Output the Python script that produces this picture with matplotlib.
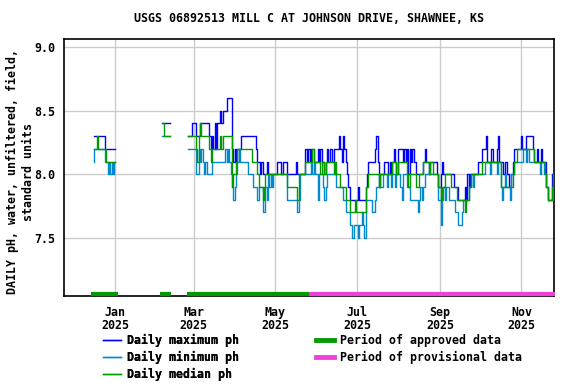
import matplotlib
matplotlib.use("Agg")
import matplotlib.pyplot as plt
import matplotlib.dates as mdates
import matplotlib.transforms as mtransforms
from matplotlib.lines import Line2D
import pandas as pd

# ---- data: daily pH, three separate runs of record ----
seg_starts = ["2024-12-16", "2025-02-05", "2025-02-25"]

max1 = [8.3, 8.3, 8.3, 8.3, 8.3, 8.3, 8.3, 8.3, 8.3, 8.2, 8.2, 8.2, 8.2, 8.2, 8.2, 8.2, 8.2]
min1 = [8.1, 8.2, 8.2, 8.2, 8.2, 8.2, 8.2, 8.2, 8.2, 8.1, 8.1, 8.0, 8.1, 8.0, 8.1, 8.0, 8.1]
med1 = [8.2, 8.2, 8.2, 8.3, 8.2, 8.2, 8.2, 8.2, 8.2, 8.2, 8.1, 8.1, 8.1, 8.1, 8.1, 8.1, 8.1]

max2 = [8.4, 8.4, 8.4, 8.4, 8.4, 8.4, 8.4]
min2 = [8.3, 8.3, 8.3, 8.3, 8.3, 8.3, 8.3]
med2 = [8.4, 8.4, 8.3, 8.3, 8.3, 8.3, 8.3]

# Feb 25 .. Nov 25 2025
max3 = [8.3, 8.3, 8.3, 8.4,
        # Mar
        8.4, 8.4, 8.3, 8.3, 8.3, 8.4, 8.4, 8.4, 8.4, 8.4, 8.4, 8.4, 8.3, 8.2, 8.3, 8.2,
        8.4, 8.2, 8.4, 8.4, 8.5, 8.4, 8.5, 8.5, 8.5, 8.6, 8.6, 8.6, 8.6, 8.2, 8.1,
        # Apr
        8.2, 8.1, 8.2, 8.2, 8.2, 8.3, 8.3, 8.3, 8.3, 8.3, 8.3, 8.3, 8.3, 8.3, 8.3,
        8.3, 8.2, 8.1, 8.1, 8.0, 8.1, 8.0, 8.0, 8.0, 8.1, 8.0, 8.0, 8.0, 8.0, 8.0,
        # May
        8.0, 8.0, 8.1, 8.1, 8.1, 8.0, 8.1, 8.1, 8.1, 8.0, 8.0, 8.0, 8.0, 8.0, 8.0, 8.0,
        8.1, 8.0, 8.0, 8.0, 8.0, 8.0, 8.0, 8.2, 8.1, 8.2, 8.1, 8.2, 8.2, 8.1, 8.1,
        # Jun
        8.1, 8.2, 8.1, 8.2, 8.1, 8.1, 8.0, 8.1, 8.2, 8.1, 8.2, 8.2, 8.1, 8.2, 8.2,
        8.2, 8.2, 8.3, 8.2, 8.1, 8.3, 8.2, 8.1, 8.0, 7.9, 7.8, 7.8, 7.8, 7.8, 7.8,
        # Jul
        7.8, 7.9, 7.8, 7.8, 7.8, 7.8, 7.8, 7.9, 8.0, 8.1, 8.1, 8.1, 8.1, 8.1, 8.2, 8.3,
        8.1, 7.9, 8.0, 8.0, 8.0, 8.1, 8.1, 8.1, 8.0, 8.1, 8.0, 8.1, 8.2, 8.1, 8.0,
        # Aug
        8.2, 8.2, 8.2, 8.2, 8.1, 8.2, 8.1, 8.2, 8.0, 8.2, 8.1, 8.2, 8.1, 8.1, 8.0, 8.0,
        8.0, 8.0, 8.0, 8.1, 8.2, 8.1, 8.1, 8.0, 8.1, 8.1, 8.1, 8.1, 8.1, 8.0, 7.9,
        # Sep
        7.9, 8.0, 8.1, 8.0, 8.0, 8.0, 8.0, 8.0, 8.0, 8.0, 8.0, 7.9, 7.9, 7.9, 7.8,
        7.8, 7.8, 7.8, 7.8, 7.9, 7.8, 8.0, 7.9, 8.0, 8.0, 8.0, 8.0, 8.0, 8.0, 8.1,
        # Oct
        8.1, 8.1, 8.2, 8.2, 8.2, 8.3, 8.1, 8.1, 8.1, 8.2, 8.1, 8.1, 8.1, 8.2, 8.3, 8.1,
        8.1, 8.1, 8.0, 8.1, 8.1, 8.0, 7.9, 7.9, 8.0, 8.1, 8.2, 8.2, 8.2, 8.2, 8.2,
        # Nov
        8.3, 8.2, 8.2, 8.2, 8.3, 8.3, 8.3, 8.3, 8.3, 8.2, 8.1, 8.1, 8.2, 8.1, 8.1, 8.2,
        8.1, 8.1, 8.1, 7.9, 7.8, 7.8, 7.8, 8.0, 8.0]

min3 = [8.2, 8.2, 8.2, 8.2,
        # Mar
        8.2, 8.2, 8.0, 8.0, 8.2, 8.1, 8.2, 8.1, 8.0, 8.1, 8.0, 8.0, 8.0, 8.0, 8.1, 8.1,
        8.1, 8.1, 8.1, 8.1, 8.1, 8.1, 8.1, 8.1, 8.2, 8.1, 8.2, 8.1, 8.0, 7.9, 7.8,
        # Apr
        7.9, 8.0, 8.1, 8.2, 8.1, 8.1, 8.1, 8.1, 8.1, 8.1, 8.0, 8.0, 8.0, 8.0, 7.9,
        7.9, 7.9, 7.8, 7.9, 7.9, 7.9, 7.7, 7.7, 7.9, 7.8, 8.0, 7.9, 8.0, 7.9, 8.0,
        # May
        8.0, 8.0, 8.0, 8.0, 8.0, 8.0, 8.0, 8.0, 8.0, 7.8, 7.8, 7.8, 7.8, 7.8, 7.8, 7.8,
        7.8, 7.7, 7.8, 8.0, 8.0, 8.0, 8.0, 8.0, 8.0, 8.0, 8.0, 8.1, 8.0, 8.1, 8.0,
        # Jun
        8.0, 7.8, 8.0, 8.0, 8.0, 7.9, 7.8, 7.9, 8.0, 8.0, 8.0, 8.0, 8.0, 8.0, 8.0,
        7.9, 7.9, 7.9, 7.9, 7.9, 7.8, 7.8, 7.7, 7.7, 7.7, 7.6, 7.6, 7.5, 7.6, 7.6,
        # Jul
        7.6, 7.5, 7.6, 7.6, 7.7, 7.6, 7.5, 7.8, 7.8, 7.8, 7.8, 7.8, 7.7, 7.7, 7.8, 7.9,
        7.9, 7.9, 7.9, 7.9, 8.0, 8.0, 8.0, 7.9, 8.0, 8.0, 7.9, 8.0, 8.0, 7.9, 8.0,
        # Aug
        8.0, 8.0, 7.9, 7.8, 8.0, 8.0, 8.0, 7.9, 7.9, 7.8, 7.8, 7.8, 7.8, 7.8, 7.8, 7.7,
        7.8, 7.9, 7.8, 7.9, 8.0, 8.0, 8.0, 8.0, 8.0, 8.0, 8.0, 8.0, 8.0, 8.0, 7.8,
        # Sep
        7.8, 7.6, 7.8, 7.9, 7.8, 7.9, 7.9, 7.8, 7.8, 7.8, 7.8, 7.8, 7.7, 7.7, 7.6,
        7.6, 7.6, 7.7, 7.8, 7.8, 7.8, 7.8, 7.9, 7.9, 8.0, 7.9, 8.0, 8.0, 8.0, 8.0,
        # Oct
        8.0, 8.0, 8.0, 8.0, 8.1, 8.1, 8.1, 8.1, 8.0, 8.1, 8.1, 8.1, 8.1, 8.0, 8.1, 8.1,
        7.9, 7.8, 7.9, 8.0, 7.9, 7.9, 7.9, 7.8, 8.0, 8.0, 8.1, 8.1, 8.1, 8.1, 8.1,
        # Nov
        8.1, 8.1, 8.2, 8.2, 8.1, 8.2, 8.1, 8.1, 8.1, 8.1, 8.1, 8.1, 8.1, 8.1, 8.0, 8.1,
        8.1, 8.0, 8.0, 7.9, 7.8, 7.8, 7.8, 7.8, 7.9]

med3 = [8.3, 8.3, 8.3, 8.3,
        # Mar
        8.3, 8.3, 8.2, 8.1, 8.3, 8.4, 8.3, 8.3, 8.3, 8.3, 8.3, 8.3, 8.2, 8.1, 8.2, 8.2,
        8.2, 8.2, 8.2, 8.2, 8.3, 8.2, 8.3, 8.3, 8.3, 8.3, 8.3, 8.3, 8.3, 7.9, 8.0,
        # Apr
        8.0, 8.1, 8.2, 8.2, 8.2, 8.2, 8.2, 8.2, 8.2, 8.2, 8.2, 8.2, 8.2, 8.1, 8.1,
        8.1, 8.1, 8.0, 7.9, 7.9, 7.9, 7.8, 7.9, 8.0, 8.0, 8.0, 8.0, 8.0, 8.0, 8.0,
        # May
        8.0, 8.0, 8.0, 8.0, 8.0, 8.0, 8.0, 8.0, 8.0, 7.9, 7.9, 7.9, 7.9, 7.9, 7.9, 7.9,
        7.9, 7.8, 8.0, 8.0, 8.0, 8.0, 8.0, 8.1, 8.1, 8.1, 8.1, 8.1, 8.2, 8.1, 8.1,
        # Jun
        8.1, 8.1, 8.1, 8.0, 8.1, 8.1, 8.0, 8.1, 8.1, 8.1, 8.1, 8.1, 8.1, 8.0, 8.1,
        8.0, 8.0, 8.0, 7.9, 7.9, 7.9, 7.9, 7.8, 7.8, 7.8, 7.7, 7.7, 7.7, 7.7, 7.8,
        # Jul
        7.7, 7.7, 7.7, 7.7, 7.7, 7.7, 7.7, 7.9, 7.9, 8.0, 8.0, 8.0, 8.0, 8.0, 8.0, 8.0,
        8.0, 7.9, 8.0, 8.0, 8.0, 8.0, 8.0, 8.0, 8.0, 8.0, 8.0, 8.1, 8.1, 8.1, 8.0,
        # Aug
        8.1, 8.1, 8.1, 8.1, 8.1, 8.1, 8.1, 8.0, 7.9, 8.0, 8.0, 8.0, 8.0, 8.0, 7.9, 7.9,
        8.0, 8.0, 8.0, 8.1, 8.1, 8.1, 8.1, 8.0, 8.1, 8.1, 8.0, 8.0, 8.0, 8.0, 7.9,
        # Sep
        7.9, 7.8, 7.9, 7.9, 8.0, 8.0, 8.0, 8.0, 8.0, 7.9, 7.9, 7.9, 7.9, 7.8, 7.8,
        7.8, 7.8, 7.8, 7.8, 7.7, 7.8, 7.8, 7.9, 7.9, 8.0, 8.0, 8.0, 8.0, 8.0, 8.0,
        # Oct
        8.0, 8.0, 8.1, 8.1, 8.1, 8.1, 8.1, 8.1, 8.1, 8.1, 8.1, 8.1, 8.1, 8.1, 8.1, 8.1,
        7.9, 7.9, 7.9, 7.9, 7.9, 7.9, 7.9, 7.9, 7.9, 8.0, 8.1, 8.1, 8.2, 8.2, 8.2,
        # Nov
        8.2, 8.2, 8.2, 8.2, 8.2, 8.2, 8.2, 8.2, 8.2, 8.2, 8.1, 8.1, 8.1, 8.1, 8.1, 8.1,
        8.1, 8.1, 8.0, 7.9, 7.8, 7.8, 7.8, 7.9, 8.0]

approved = [("2024-12-14", "2025-01-03"), ("2025-02-04", "2025-02-12"),
            ("2025-02-24", "2025-05-26")]
provisional = [("2025-05-26", "2025-11-26")]

tick_dates = ["2025-01-01", "2025-03-01", "2025-05-01", "2025-07-01", "2025-09-01", "2025-11-01"]
tick_labels = ["Jan\n2025", "Mar\n2025", "May\n2025", "Jul\n2025", "Sep\n2025", "Nov\n2025"]
yticks = [7.5, 8.0, 8.5, 9.0]

title = "USGS 06892513 MILL C AT JOHNSON DRIVE, SHAWNEE, KS"
ylabel = "DAILY pH, water, unfiltered, field,\nstandard units"

c_max = "#0000ff"
c_min = "#0088d0"
c_med = "#009a00"
c_appr = "#009900"
c_prov = "#f040dc"

plt.rcParams["font.family"] = "DejaVu Sans Mono"
plt.rcParams["font.weight"] = "bold"
fs = 8.4

fig = plt.figure(figsize=(5.76, 3.84), dpi=100)
ax = fig.add_axes([64 / 576, 1 - 296 / 384, 490 / 576, 257 / 384])

segs = [(max1, min1, med1), (max2, min2, med2), (max3, min3, med3)]
for start, (mx, mn, md) in zip(seg_starts, segs):
    d = pd.date_range(start, periods=len(mx), freq="D")
    ax.plot(d, mx, color=c_max, lw=1.0, drawstyle="steps-mid", zorder=3)
    ax.plot(d, mn, color=c_min, lw=1.0, drawstyle="steps-mid", zorder=3)
    ax.plot(d, md, color=c_med, lw=1.0, drawstyle="steps-mid", zorder=4)

# approval status bars along the bottom of the plot
trans = mtransforms.blended_transform_factory(ax.transData, ax.transAxes)
for a, b in approved:
    ax.plot([pd.Timestamp(a), pd.Timestamp(b)], [0.009, 0.009], color=c_appr,
            lw=3.0, solid_capstyle="butt", transform=trans, zorder=5, clip_on=False)
for a, b in provisional:
    ax.plot([pd.Timestamp(a), pd.Timestamp(b)], [0.009, 0.009], color=c_prov,
            lw=3.0, solid_capstyle="butt", transform=trans, zorder=5, clip_on=False)

ax.set_xlim(pd.Timestamp("2024-11-23 22:00"), pd.Timestamp("2025-11-25 08:00"))
ax.set_ylim(7.04, 9.066)
ax.set_xticks([pd.Timestamp(t) for t in tick_dates])
ax.set_xticklabels(tick_labels, fontsize=fs, fontweight="bold", linespacing=1.05)
ax.set_yticks(yticks)
ax.set_yticklabels(["%.1f" % v for v in yticks], fontsize=fs, fontweight="bold")
ax.tick_params(axis="both", length=0)
ax.tick_params(axis="x", pad=7)
ax.tick_params(axis="y", pad=6)
ax.grid(True, color="#cccccc", lw=1.0)
ax.set_axisbelow(True)
for s in ax.spines.values():
    s.set_linewidth(1.2)

fig.text(309 / 576, 1 - 19 / 384, title, ha="center", va="center",
         fontsize=fs, fontweight="bold")
fig.text(20 / 576, 1 - 172 / 384, ylabel, ha="center", va="center", rotation=90,
         fontsize=fs, fontweight="bold", linespacing=1.3, multialignment="center")

h1 = [Line2D([], [], color=c_max, lw=1.0), Line2D([], [], color=c_min, lw=1.0),
      Line2D([], [], color=c_med, lw=1.0)]
l1 = ["Daily maximum ph", "Daily minimum ph", "Daily median ph"]
h2 = [Line2D([], [], color=c_appr, lw=3.5), Line2D([], [], color=c_prov, lw=3.5)]
l2 = ["Period of approved data", "Period of provisional data"]

leg1 = fig.legend(h1, l1, loc="upper left", bbox_to_anchor=(103 / 576, 1 - 334 / 384),
                  frameon=False, borderpad=0, borderaxespad=0, handlelength=1.55,
                  handletextpad=0.5, labelspacing=0.35,
                  prop={"family": "DejaVu Sans Mono", "weight": "bold", "size": fs})
leg2 = fig.legend(h2, l2, loc="upper left", bbox_to_anchor=(316 / 576, 1 - 334 / 384),
                  frameon=False, borderpad=0, borderaxespad=0, handlelength=1.55,
                  handletextpad=0.5, labelspacing=0.35,
                  prop={"family": "DejaVu Sans Mono", "weight": "bold", "size": fs})
fig.add_artist(leg1)

fig.savefig("out.png", dpi=100)
